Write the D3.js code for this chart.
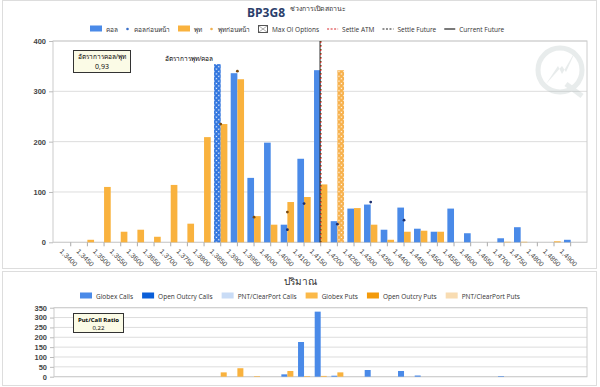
<!DOCTYPE html>
<html>
<head>
<meta charset="utf-8">
<script src="https://cdn.jsdelivr.net/npm/d3@7"></script>
<style>
  body { margin: 0; background: #fff; }
  svg { font-family: "Open Sans", "Noto Sans", "DejaVu Sans", sans-serif; }
  .tick text { fill: #444; }
</style>
</head>
<body>
<div id="chart"></div>
<script>
// strikes 1.3400 .. 1.4900
const strikes = ["1.3400","1.3450","1.3500","1.3550","1.3600","1.3650","1.3700","1.3750","1.3800","1.3850",
  "1.3900","1.3950","1.4000","1.4050","1.4100","1.4150","1.4200","1.4250","1.4300","1.4350",
  "1.4400","1.4450","1.4500","1.4550","1.4600","1.4650","1.4700","1.4750","1.4800","1.4850","1.4900"];

// open interest
const callOI = [0,0,0,0,0,0,0,0,0,354, 336,128,198,35,166,342,42,67,75,25, 69,27,21,67,18,0,8,30,0,0,5];
const putOI  = [0,5,110,21,25,11,114,37,209,235, 324,52,35,80,90,115,342,68,35,5, 21,23,21,0,0,0,1,1,0,2,0];
const callPrev = [null,null,null,null,null,null,null,null,null,null, null,null,null,25,77,null,36,null,80,null, 44,null,null,null,null,null,null,null,null,null,null];
const putPrev  = [null,null,null,null,null,null,null,null,null,235, 340,50,null,60,null,null,null,null,null,null, null,null,null,null,null,null,null,null,null,null,null];
const maxCall = "1.3850", maxPut = "1.4200";
const settleATM = "1.4150", settleFuture = "1.4150", currentFuture = 1.4148;

// volume
const globexCalls = [0,0,0,0,0,0,0,0,0,0, 0,0,0,12,176,330,5,0,34,0, 29,6,0,0,0,0,3,0,0,0,0];
const globexPuts  = [0,0,0,0,0,0,0,0,0,22, 43,3,0,29,3,4,22,0,0,0, 0,0,0,0,0,0,0,0,0,0,0];

const topTicks = [0,100,200,300,400];
const volTicks = [0,50,100,150,200,250,300,350];

const W = 600, H = 387;
const blue = "#4a8ae8", orange = "#f9b23e";

const svg = d3.select("#chart").append("svg").attr("width", W).attr("height", H);

// pattern for max OI bars
function pattern(id, col) {
  const p = svg.append("defs").append("pattern")
    .attr("id", id).attr("width", 3.4).attr("height", 3.4)
    .attr("patternUnits", "userSpaceOnUse").attr("patternTransform", "rotate(45)");
  p.append("rect").attr("width", 3.4).attr("height", 3.4).attr("fill", col);
  p.append("rect").attr("x", 0.6).attr("y", 0.6).attr("width", 1.3).attr("height", 1.3).attr("fill", "#fff");
}
pattern("hatchBlue", "#2f74de");
pattern("hatchOrange", "#f7b04a");

// outer borders
svg.append("rect").attr("x", 2.5).attr("y", 0.5).attr("width", 594).attr("height", 268)
  .attr("fill", "none").attr("stroke", "#ddd");
svg.append("rect").attr("x", 2.5).attr("y", 271.5).attr("width", 594).attr("height", 114)
  .attr("fill", "none").attr("stroke", "#ddd");

/***** TOP CHART *****/
const x = d3.scaleBand().domain(strikes).range([62.4, 579]);
const y = d3.scaleLinear().domain([0, 400]).range([242.3, 41]);
const bw = x.bandwidth() * 0.4;
const cx = s => x(s) + x.bandwidth() / 2;

// grid
svg.append("g").selectAll("line").data(topTicks).join("line")
  .attr("x1", 53).attr("x2", 587).attr("y1", d => y(d)).attr("y2", d => y(d))
  .attr("stroke", "#ddd");
svg.append("rect").attr("x", 53).attr("y", 41).attr("width", 534).attr("height", 201.3)
  .attr("fill", "none").attr("stroke", "#ccc");

// watermark
const wm = svg.append("g").attr("transform", "translate(560,70)").attr("opacity", 0.22);
wm.append("circle").attr("r", 22).attr("fill", "none").attr("stroke", "#9aa").attr("stroke-width", 5);
wm.append("path").attr("d", "M-14,14 L-2,-4 L2,4 L16,-20 L6,2 L2,-4 Z").attr("fill", "#9aa");
wm.append("path").attr("d", "M6,14 L22,26").attr("stroke", "#9aa").attr("stroke-width", 5);

// y axis
svg.append("g").attr("transform", "translate(53,0)")
  .call(d3.axisLeft(y).tickValues(topTicks).tickSize(4).tickPadding(3))
  .call(g => g.select(".domain").remove())
  .call(g => g.selectAll("line").attr("stroke", "#bbb"))
  .call(g => g.selectAll("text").attr("font-size", 7.5).attr("font-weight", "bold"));

// x axis
svg.append("g").attr("transform", "translate(0,242.3)")
  .call(d3.axisBottom(x).tickSize(4).tickFormat(d => d.replace(".", ",")))
  .call(g => g.select(".domain").remove())
  .call(g => g.selectAll("line").attr("stroke", "#aaa"))
  .call(g => g.selectAll("text").attr("font-size", 7).attr("text-anchor", "start")
    .attr("transform", "translate(-3,1) rotate(45)"));

const plot = svg.append("g");
plot.selectAll(".call").data(strikes).join("rect")
  .attr("x", d => cx(d) - bw).attr("width", bw)
  .attr("y", (d, i) => y(callOI[i])).attr("height", (d, i) => y(0) - y(callOI[i]))
  .attr("fill", d => d === maxCall ? "url(#hatchBlue)" : blue);
plot.selectAll(".put").data(strikes).join("rect")
  .attr("x", d => cx(d)).attr("width", bw)
  .attr("y", (d, i) => y(putOI[i])).attr("height", (d, i) => y(0) - y(putOI[i]))
  .attr("fill", d => d === maxPut ? "url(#hatchOrange)" : orange);

plot.selectAll(".cprev").data(strikes.filter((d, i) => callPrev[i] != null)).join("circle")
  .attr("cx", d => cx(d)).attr("cy", d => y(callPrev[strikes.indexOf(d)])).attr("r", 1.4)
  .attr("fill", "#1c2f6e");
plot.selectAll(".pprev").data(strikes.filter((d, i) => putPrev[i] != null)).join("circle")
  .attr("cx", d => cx(d)).attr("cy", d => y(putPrev[strikes.indexOf(d)])).attr("r", 1.4)
  .attr("fill", "#7a4a10");

// reference lines
const step = x.step();
const cfX = cx("1.4150") + (currentFuture - 1.415) / 0.005 * step;
svg.append("line").attr("x1", cfX).attr("x2", cfX).attr("y1", 41).attr("y2", 242.3)
  .attr("stroke", "#222").attr("stroke-width", 1);
svg.append("line").attr("x1", cx(settleATM)).attr("x2", cx(settleATM)).attr("y1", 41).attr("y2", 242.3)
  .attr("stroke", "#d8262b").attr("stroke-width", 1.3).attr("stroke-dasharray", "2,2");
svg.append("line").attr("x1", cx(settleFuture)).attr("x2", cx(settleFuture)).attr("y1", 41).attr("y2", 242.3)
  .attr("stroke", "#552").attr("stroke-width", 1.3).attr("stroke-dasharray", "1,3");

// ratio box
const box1 = svg.append("g");
box1.append("rect").attr("x", 73.5).attr("y", 50.5).attr("width", 57).attr("height", 22)
  .attr("fill", "#fbfbe6").attr("stroke", "#333");
box1.append("text").attr("x", 102).attr("y", 59).attr("text-anchor", "middle").attr("font-size", 6.5).text("อัตราการคอล/พุท");
box1.append("text").attr("x", 102).attr("y", 69).attr("text-anchor", "middle").attr("font-size", 7).text("0,93");
svg.append("text").attr("x", 165).attr("y", 61).attr("font-size", 6.5).text("อัตราการพุท/คอล");

// titles
svg.append("text").attr("x", 266).attr("y", 17).attr("text-anchor", "middle").attr("font-size", 12)
  .attr("font-weight", "bold").attr("fill", "#2b3e6b").text("BP3G8");
svg.append("text").attr("x", 290).attr("y", 11).attr("font-size", 7).attr("fill", "#333").text("ช่วงการเปิดสถานะ");

// legend builder
function legend(items, x0, yy, gap) {
  const g = svg.append("g");
  let xx = x0;
  items.forEach(it => {
    const sym = g.append("g").attr("transform", `translate(${xx},${yy})`);
    let sw = 12;
    if (it.type === "rect") {
      sym.append("rect").attr("x", 0).attr("y", -3.5).attr("width", 12).attr("height", 6).attr("fill", it.color);
    } else if (it.type === "dot") {
      sw = 4;
      sym.append("circle").attr("cx", 1.5).attr("cy", 0).attr("r", 1.3).attr("fill", it.color);
    } else if (it.type === "hatch") {
      sw = 10;
      sym.append("rect").attr("x", 0.5).attr("y", -3.5).attr("width", 9).attr("height", 7).attr("fill", "#fff").attr("stroke", "#555");
      sym.append("path").attr("d", "M1,-3 L9,3 M9,-3 L1,3").attr("stroke", "#777").attr("stroke-width", 0.6);
    } else {
      sw = 11;
      sym.append("line").attr("x1", 0).attr("x2", 11).attr("stroke", it.color).attr("stroke-width", 1.2)
        .attr("stroke-dasharray", it.dash || null);
    }
    const t = g.append("text").attr("x", xx + sw + 4).attr("y", yy + 2.5).attr("font-size", it.fs || 6.5)
      .attr("fill", "#333").text(it.label);
    xx += sw + 4 + t.node().getComputedTextLength() + gap;
  });
}

legend([
  { type: "rect", color: blue, label: "คอล" },
  { type: "dot", color: "#3a6fc8", label: "คอลก่อนหน้า" },
  { type: "rect", color: orange, label: "พุท" },
  { type: "dot", color: "#f0b050", label: "พุทก่อนหน้า" },
  { type: "hatch", label: "Max OI Options" },
  { type: "line", color: "#d8262b", dash: "2,1.5", label: "Settle ATM" },
  { type: "line", color: "#222", dash: "2,1.5", label: "Settle Future" },
  { type: "line", color: "#222", label: "Current Future" }
], 90, 29, 8);

/***** VOLUME CHART *****/
const yv = d3.scaleLinear().domain([0, 350]).range([376.7, 307.7]);

svg.append("g").selectAll("line").data(volTicks).join("line")
  .attr("x1", 54).attr("x2", 587).attr("y1", d => yv(d)).attr("y2", d => yv(d))
  .attr("stroke", "#ddd");
svg.append("rect").attr("x", 54).attr("y", 307.7).attr("width", 533).attr("height", 69)
  .attr("fill", "none").attr("stroke", "#ccc");

svg.append("g").attr("transform", "translate(54,0)")
  .call(d3.axisLeft(yv).tickValues(volTicks).tickSize(4).tickPadding(3))
  .call(g => g.select(".domain").remove())
  .call(g => g.selectAll("line").attr("stroke", "#bbb"))
  .call(g => g.selectAll("text").attr("font-size", 7.5).attr("font-weight", "bold"));

svg.append("g").selectAll("rect").data(strikes).join("rect")
  .attr("x", d => cx(d) - 6).attr("width", 6)
  .attr("y", (d, i) => yv(globexCalls[i])).attr("height", (d, i) => yv(0) - yv(globexCalls[i]))
  .attr("fill", blue);
svg.append("g").selectAll("rect").data(strikes).join("rect")
  .attr("x", d => cx(d)).attr("width", 6)
  .attr("y", (d, i) => yv(globexPuts[i])).attr("height", (d, i) => yv(0) - yv(globexPuts[i]))
  .attr("fill", orange);

svg.append("text").attr("x", 300).attr("y", 285).attr("text-anchor", "middle").attr("font-size", 10)
  .attr("fill", "#333").text("ปริมาณ");

legend([
  { type: "rect", color: "#4a8ae8", label: "Globex Calls", fs: 6.5 },
  { type: "rect", color: "#0a5ed8", label: "Open Outcry Calls", fs: 6.5 },
  { type: "rect", color: "#c9dcf6", label: "PNT/ClearPort Calls", fs: 6.5 },
  { type: "rect", color: "#fbb949", label: "Globex Puts", fs: 6.5 },
  { type: "rect", color: "#f39a0a", label: "Open Outcry Puts", fs: 6.5 },
  { type: "rect", color: "#f8dcb2", label: "PNT/ClearPort Puts", fs: 6.5 }
], 80, 296, 9);

const box2 = svg.append("g");
box2.append("rect").attr("x", 73.5).attr("y", 313.5).attr("width", 50).attr("height", 19)
  .attr("fill", "#fbfbe6").attr("stroke", "#333");
box2.append("text").attr("x", 98.5).attr("y", 321.5).attr("text-anchor", "middle").attr("font-size", 6)
  .attr("font-weight", "bold").text("Put/Call Ratio");
box2.append("text").attr("x", 98.5).attr("y", 330).attr("text-anchor", "middle").attr("font-size", 6).text("0,22");
</script>
</body>
</html>
